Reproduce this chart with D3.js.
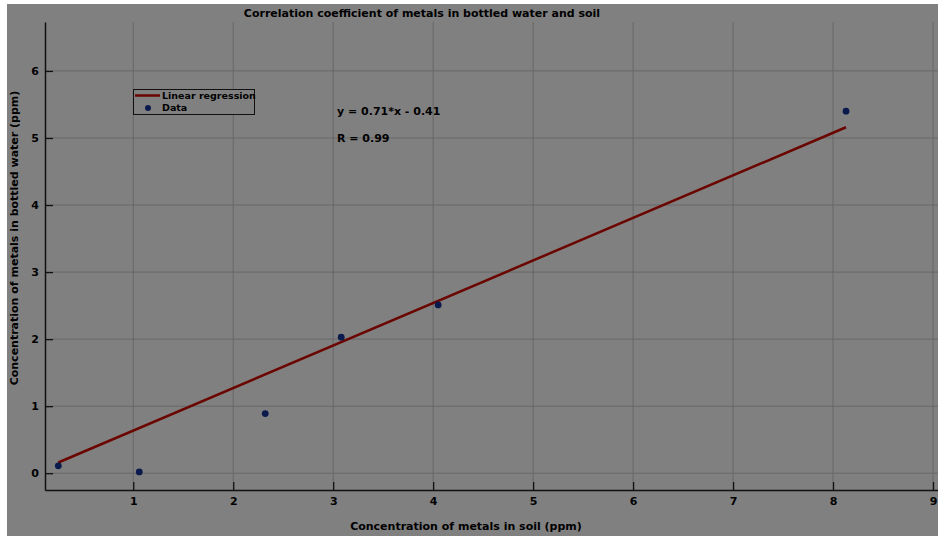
<!DOCTYPE html>
<html>
<head>
  <meta charset="utf-8">
  <script src="https://d3js.org/d3.v7.min.js"></script>
  <style>
    body { margin: 0; background: #fff; }
    text { font-family: "DejaVu Sans", sans-serif; font-weight: bold; fill: #000; }
  </style>
</head>
<body>
<script>
// measured points (soil vs bottled water), ppm
var soilX  = [0.25, 1.06, 2.32, 3.08, 4.05, 8.13];
var waterY = [0.11, 0.02, 0.89, 2.03, 2.51, 5.40];
// regression line as drawn (end points)
var fitX = [0.25, 8.13];
var fitY = [0.16, 5.16];
var xTicks = [1, 2, 3, 4, 5, 6, 7, 8, 9];
var yTicks = [0, 1, 2, 3, 4, 5, 6];

var W = 938, H = 536;
var svg = d3.select("body").append("svg").attr("width", W).attr("height", H);

// gray figure background, small white margin top/left
svg.append("rect").attr("x", 7).attr("y", 4).attr("width", W - 7).attr("height", H - 4)
  .attr("fill", "#808080");

var pLeft = 45, pRight = 938, pTop = 22, pBottom = 490;
var x = d3.scaleLinear().domain([0.117, 9.05]).range([pLeft, pRight]);
var y = d3.scaleLinear().domain([-0.25, 6.73]).range([pBottom, pTop]);

// grid
svg.append("g").selectAll("line").data(xTicks).enter().append("line")
  .attr("x1", d => x(d)).attr("x2", d => x(d)).attr("y1", pTop).attr("y2", pBottom)
  .attr("stroke", "#676767").attr("stroke-width", 1);
svg.append("g").selectAll("line").data(yTicks).enter().append("line")
  .attr("x1", pLeft).attr("x2", pRight).attr("y1", d => y(d)).attr("y2", d => y(d))
  .attr("stroke", "#676767").attr("stroke-width", 1);

// axes, ticks pointing inward
var xAxis = svg.append("g").attr("transform", "translate(0," + pBottom + ")")
  .call(d3.axisBottom(x).tickValues(xTicks).tickFormat(d3.format("d"))
    .tickSizeInner(-8).tickSizeOuter(0).tickPadding(7));
var yAxis = svg.append("g").attr("transform", "translate(" + pLeft + ",0)")
  .call(d3.axisLeft(y).tickValues(yTicks).tickFormat(d3.format("d"))
    .tickSizeInner(-8).tickSizeOuter(0).tickPadding(6));
[xAxis, yAxis].forEach(function (a) {
  a.select(".domain").attr("stroke", "#111").attr("stroke-width", 1.5);
  a.selectAll(".tick line").attr("stroke", "#111").attr("stroke-width", 1.3);
  a.selectAll(".tick text").style("font-size", "11px").style("font-family", "DejaVu Sans")
    .style("font-weight", "bold").attr("fill", "#000");
});

// regression line
svg.append("path")
  .datum(fitX.map((d, i) => [d, fitY[i]]))
  .attr("d", d3.line().x(d => x(d[0])).y(d => y(d[1])))
  .attr("fill", "none").attr("stroke", "#6a0500").attr("stroke-width", 2.5);

// data points
svg.append("g").selectAll("circle").data(soilX).enter().append("circle")
  .attr("cx", d => x(d)).attr("cy", (d, i) => y(waterY[i])).attr("r", 3.4)
  .attr("fill", "#0a1a4d");

// title and axis labels
svg.append("text").attr("x", 422).attr("y", 17).attr("text-anchor", "middle")
  .style("font-size", "11px").text("Correlation coefficient of metals in bottled water and soil");
svg.append("text").attr("x", 466).attr("y", 530).attr("text-anchor", "middle")
  .style("font-size", "11px").text("Concentration of metals in soil (ppm)");
svg.append("text").attr("transform", "translate(18,238) rotate(-90)").attr("text-anchor", "middle")
  .style("font-size", "11px").text("Concentration of metals in bottled water (ppm)");

// equation annotations
svg.append("text").attr("x", 337).attr("y", 115).style("font-size", "11px").text("y = 0.71*x - 0.41");
svg.append("text").attr("x", 337).attr("y", 142).style("font-size", "11px").text("R = 0.99");

// legend
var lg = svg.append("g");
lg.append("rect").attr("x", 133.5).attr("y", 89.5).attr("width", 121).attr("height", 25)
  .attr("fill", "#808080").attr("stroke", "#111").attr("stroke-width", 1);
lg.append("line").attr("x1", 135).attr("x2", 160).attr("y1", 95.5).attr("y2", 95.5)
  .attr("stroke", "#6a0500").attr("stroke-width", 2.5);
lg.append("circle").attr("cx", 148).attr("cy", 108).attr("r", 3).attr("fill", "#0a1a4d");
lg.append("text").attr("x", 162).attr("y", 99).style("font-size", "9.5px").text("Linear regression");
lg.append("text").attr("x", 162).attr("y", 111).style("font-size", "9.5px").text("Data");
</script>
</body>
</html>
